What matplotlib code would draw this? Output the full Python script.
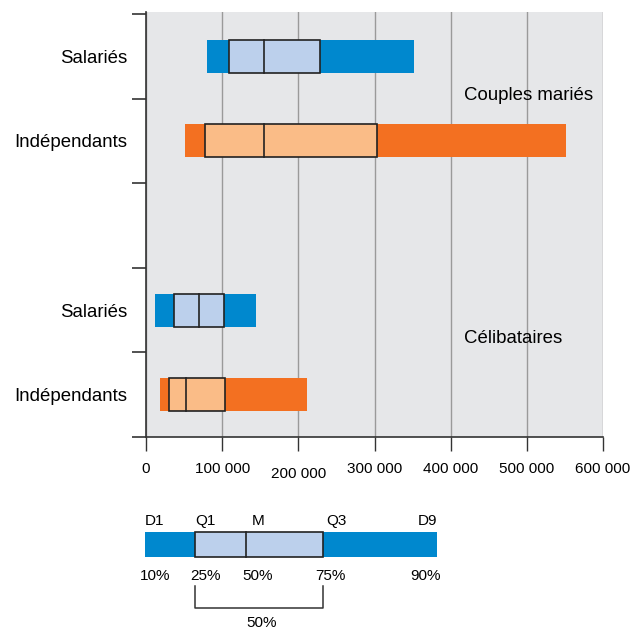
import numpy as np
import matplotlib.pyplot as plt
from matplotlib.transforms import ScaledTranslation

plt.rcParams['font.family'] = ['Liberation Sans', 'DejaVu Sans']

# revenus : D1, Q1, médiane, Q3, D9
groupes = ['Salariés', 'Indépendants', '', 'Salariés', 'Indépendants']
pos_y = [4.5, 3.5, 2.5, 1.5, 0.5]
d1 = [80000, 51000, None, 12000, 18000]
q1 = [109000, 78000, None, 37000, 30500]
med = [155000, 155000, None, 70000, 52000]
q3 = [228000, 303000, None, 102000, 104000]
d9 = [352000, 552000, None, 145000, 212000]
fonce = ['#0088ce', '#f37021', None, '#0088ce', '#f37021']
clair = ['#bcd0ec', '#fabc87', None, '#bcd0ec', '#fabc87']

xticks = [0, 100000, 200000, 300000, 400000, 500000, 600000]
xlabels = ['0', '100 000', '200 000', '300 000', '400 000', '500 000', '600 000']

# schéma de lecture
leg_pos = [0, 50, 101, 178, 292]
leg_haut = ['D1', 'Q1', 'M', 'Q3', 'D9']
leg_bas = ['10%', '25%', '50%', '75%', '90%']

fs = 13.4
fs_num = 11

fig = plt.figure(figsize=(6.34, 6.3), dpi=100)
ax = fig.add_axes([146/634, 1-437/630, 457/634, 425/630])
ax.set_facecolor('#e6e7e9')

h = 0.39
for i in range(len(groupes)):
    if d1[i] is None:
        continue
    y = pos_y[i]
    ax.barh(y, d9[i]-d1[i], left=d1[i], height=h, color=fonce[i], zorder=3)
    ax.barh(y, q3[i]-q1[i], left=q1[i], height=h, color=clair[i],
            edgecolor='#222222', linewidth=1.2, zorder=4)
    ax.plot([med[i], med[i]], [y-h/2, y+h/2], color='#222222', lw=1.2, zorder=5)

ax.set_xlim(0, 600000)
ax.set_ylim(0, 5.025)
ax.set_xticks(xticks)
ax.set_xticklabels(xlabels, fontsize=fs_num)
ax.set_yticks([0, 1, 2, 3, 4, 5])
ax.set_yticklabels([])
ax.set_yticks(pos_y, minor=True)
ax.set_yticklabels(groupes, minor=True, fontsize=fs)
ax.tick_params(axis='y', which='minor', length=0, pad=13.5)
ax.tick_params(axis='y', which='major', length=10, width=1.2, color='#333333')
ax.tick_params(axis='x', length=10, width=1, color='#333333', pad=8)
ax.grid(axis='x', color='#9a9a9a', lw=1, zorder=1)
for s in ['top', 'right']:
    ax.spines[s].set_visible(False)
for s in ['left', 'bottom']:
    ax.spines[s].set_color('#333333')
    ax.spines[s].set_linewidth(1.2)
    ax.spines[s].set_zorder(6)

lab = ax.get_xticklabels()[2]
lab.set_transform(lab.get_transform() + ScaledTranslation(0, -0.05, fig.dpi_scale_trans))

ax.text(417000, 4.04, 'Couples mariés', fontsize=fs, va='center')
ax.text(417000, 1.16, 'Célibataires', fontsize=fs, va='center')

# légende
lg = fig.add_axes([145/634, 0, 292/634, 125/630])
lg.set_xlim(0, 292)
lg.set_ylim(125, 0)
lg.axis('off')
lg.barh(39.8, leg_pos[4]-leg_pos[0], left=leg_pos[0], height=25, color='#0088ce')
lg.barh(39.8, leg_pos[3]-leg_pos[1], left=leg_pos[1], height=25, color='#bcd0ec',
        edgecolor='#222222', linewidth=1.2)
lg.plot([leg_pos[2], leg_pos[2]], [27.3, 52.3], color='#222222', lw=1.2)

dx_haut = [0, 0, 6, 3, 0]
ha_haut = ['left', 'left', 'left', 'left', 'right']
dx_bas = [10, -5, -4, -8, 4]
ha_bas = ['center', 'left', 'left', 'left', 'right']
for i in range(5):
    lg.text(leg_pos[i]+dx_haut[i], 16, leg_haut[i], ha=ha_haut[i], va='center',
            fontsize=fs_num)
    lg.text(leg_pos[i]+dx_bas[i], 71, leg_bas[i], ha=ha_bas[i], va='center',
            fontsize=fs_num)

lg.plot([leg_pos[1], leg_pos[1], leg_pos[3], leg_pos[3]], [81, 103, 103, 81],
        color='#333333', lw=1.1)
lg.text((leg_pos[1]+leg_pos[3])/2 + 3, 118, '50%', ha='center', va='center',
        fontsize=fs_num)

fig.savefig('out.png', dpi=100)
